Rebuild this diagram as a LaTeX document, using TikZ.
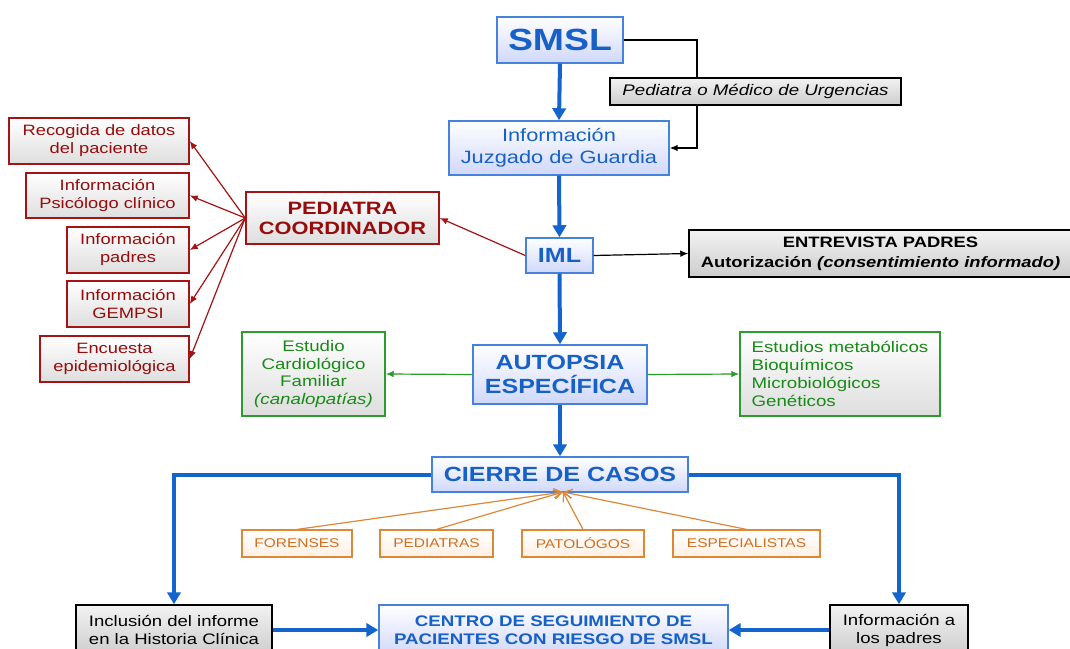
\documentclass[tikz,border=0pt]{standalone}
\usepackage{fontspec}
\setmainfont{Liberation Sans}[FakeStretch=1.22]
\usetikzlibrary{arrows.meta,calc}

\definecolor{bluetxt}{RGB}{22,96,200}
\definecolor{blueline}{RGB}{20,100,205}
\definecolor{blueedge}{RGB}{70,130,220}
\definecolor{bluefill}{RGB}{208,216,250}
\definecolor{redtxt}{RGB}{150,12,12}
\definecolor{rededge}{RGB}{165,20,20}
\definecolor{greentxt}{RGB}{24,138,24}
\definecolor{greenedge}{RGB}{45,155,45}
\definecolor{orangetxt}{RGB}{210,110,30}
\definecolor{orangeedge}{RGB}{222,135,55}
\definecolor{orangefill}{RGB}{255,240,228}
\definecolor{grayfill}{RGB}{205,205,205}
\definecolor{softgray}{RGB}{222,222,222}

\newcommand{\fs}[2]{\fontsize{#1}{#2}\selectfont}

\tikzset{
  sz/.style 2 args={minimum width=#1*0.75pt, minimum height=#2*0.75pt},
  base/.style={rectangle, inner sep=1pt, align=center, line width=1.1pt},
  bluebox/.style={base, draw=blueedge, top color=white, bottom color=bluefill, text=bluetxt, font=\bfseries},
  redbox/.style={base, draw=rededge, top color=white, bottom color=softgray, text=redtxt},
  greenbox/.style={base, draw=greenedge, top color=white, bottom color=softgray, text=greentxt},
  orangebox/.style={base, line width=0.9pt, draw=orangeedge, top color=white, bottom color=orangefill, text=orangetxt},
  graybox/.style={base, draw=black, top color=white!90!gray, bottom color=grayfill, text=black},
  mainflow/.style={draw=blueline, line width=3pt, -{Triangle[length=9pt,width=10pt]}},
  thinarrow/.style={line width=0.9pt, -{Latex[length=6pt,width=5pt]}},
}

\begin{document}
\begin{tikzpicture}[x=0.75pt, y=-0.75pt]
\useasboundingbox (0,0) rectangle (1070,649);

% central column
\node[bluebox, sz={126}{46}, font=\bfseries\fs{23}{26}] (smsl) at (560,40) {SMSL};
\node[bluebox, sz={220}{54}, font=\fs{13.4}{16.5}] (info) at (559,148) {Información\\Juzgado de Guardia};
\node[bluebox, sz={67}{35}, font=\bfseries\fs{15.4}{18}] (iml) at (559.5,255.5) {IML};
\node[bluebox, sz={174}{59}, font=\bfseries\fs{15.4}{18}] (autop) at (560,374.5) {AUTOPSIA\\ESPECÍFICA};
\node[bluebox, sz={256}{35}, font=\bfseries\fs{15.4}{18}] (cierre) at (560,474.5) {CIERRE DE CASOS};

% main vertical flow
\draw[mainflow] (smsl.south) -- (info.north);
\draw[mainflow] (info.south) -- (iml.north);
\draw[mainflow] (iml.south) -- (autop.north);
\draw[mainflow] (autop.south) -- (cierre.north);

% emergency doctor branch
\coordinate (bend) at (697,40);
\draw[thinarrow] (smsl.east) -- (bend) |- (info.east);
\node[graybox, sz={291}{27}, font=\itshape\fs{11.5}{13.5}] (ped) at (755.5,91.5) {Pediatra o Médico de Urgencias};

% parents interview
\node[graybox, sz={383}{47}, font=\bfseries\fs{11.3}{15}] (entrev) at (880.5,253.5)
  {ENTREVISTA PADRES\\Autorización \textit{(consentimiento informado)}};
\draw[thinarrow] (iml.east) -- (entrev.west);

% coordinating paediatrician
\node[redbox, sz={193}{52}, font=\bfseries\fs{13.4}{15}] (pcoord) at (342.5,218) {PEDIATRA\\COORDINADOR};
\draw[thinarrow, draw=rededge, fill=rededge] (iml.west) -- (pcoord.east);

\node[redbox, sz={180}{46}, font=\fs{11.25}{13.5}] (r1) at (99,141) {Recogida de datos\\del paciente};
\node[redbox, sz={163}{45}, font=\fs{11.25}{13.5}] (r2) at (107.5,195.5) {Información\\Psicólogo clínico};
\node[redbox, sz={122}{46}, font=\fs{11.25}{13.5}] (r3) at (128,250) {Información\\padres};
\node[redbox, sz={122}{46}, font=\fs{11.25}{13.5}] (r4) at (128,304) {Información\\GEMPSI};
\node[redbox, sz={149}{46}, font=\fs{11.25}{13.5}] (r5) at (114.5,359) {Encuesta\\epidemiológica};
\foreach \r in {r1,r2,r3,r4,r5}
  \draw[thinarrow, draw=rededge, fill=rededge] (pcoord.west) -- (\r.east);

% complementary studies
\node[greenbox, sz={143}{84}, font=\fs{11.5}{13.3}] (card) at (313.5,374)
  {Estudio\\Cardiológico\\Familiar\\\textit{(canalopatías)}};
\node[greenbox, sz={200}{84}, align=left, font=\fs{11.5}{13.7}] (estud) at (840,374)
  {Estudios metabólicos\\Bioquímicos\\Microbiológicos\\Genéticos};
\draw[thinarrow, draw=greenedge, fill=greenedge] (autop.west) -- (card.east);
\draw[thinarrow, draw=greenedge, fill=greenedge] (autop.east) -- (estud.west);

% specialists closing the case
\coordinate (ctip) at (563,492);
\node[orangebox, sz={110}{27}, font=\fs{9.5}{11}] (o1) at (297,543.5) {FORENSES};
\node[orangebox, sz={113}{27}, font=\fs{9.5}{11}] (o2) at (436.5,543.5) {PEDIATRAS};
\node[orangebox, sz={122}{27}, font=\fs{9.5}{11}] (o3) at (583,543.5) {PATOLÓGOS};
\node[orangebox, sz={147}{27}, font=\fs{9.5}{11}] (o4) at (746.5,543.5) {ESPECIALISTAS};
\foreach \o in {o1,o2,o3,o4}
  \draw[line width=0.9pt, draw=orangeedge, -{Straight Barb[length=6pt,width=7pt]}] (\o.north) -- (ctip);

% follow-up
\node[graybox, sz={196}{50}, font=\fs{11.4}{13.5}] (incl) at (174,630) {Inclusión del informe\\en la Historia Clínica};
\node[bluebox, sz={349}{50}, font=\bfseries\fs{11.5}{13.5}] (centro) at (553.5,630) {CENTRO DE SEGUIMIENTO DE\\PACIENTES CON RIESGO DE SMSL};
\node[graybox, sz={138}{50}, font=\fs{11.4}{13.5}] (infop) at (899,630) {Información a\\los padres};

\draw[mainflow] (cierre.west) -| (incl.north);
\draw[mainflow] (cierre.east) -| (infop.north);
\draw[mainflow] (incl.east) -- (centro.west);
\draw[mainflow] (infop.west) -- (centro.east);

\end{tikzpicture}
\end{document}
